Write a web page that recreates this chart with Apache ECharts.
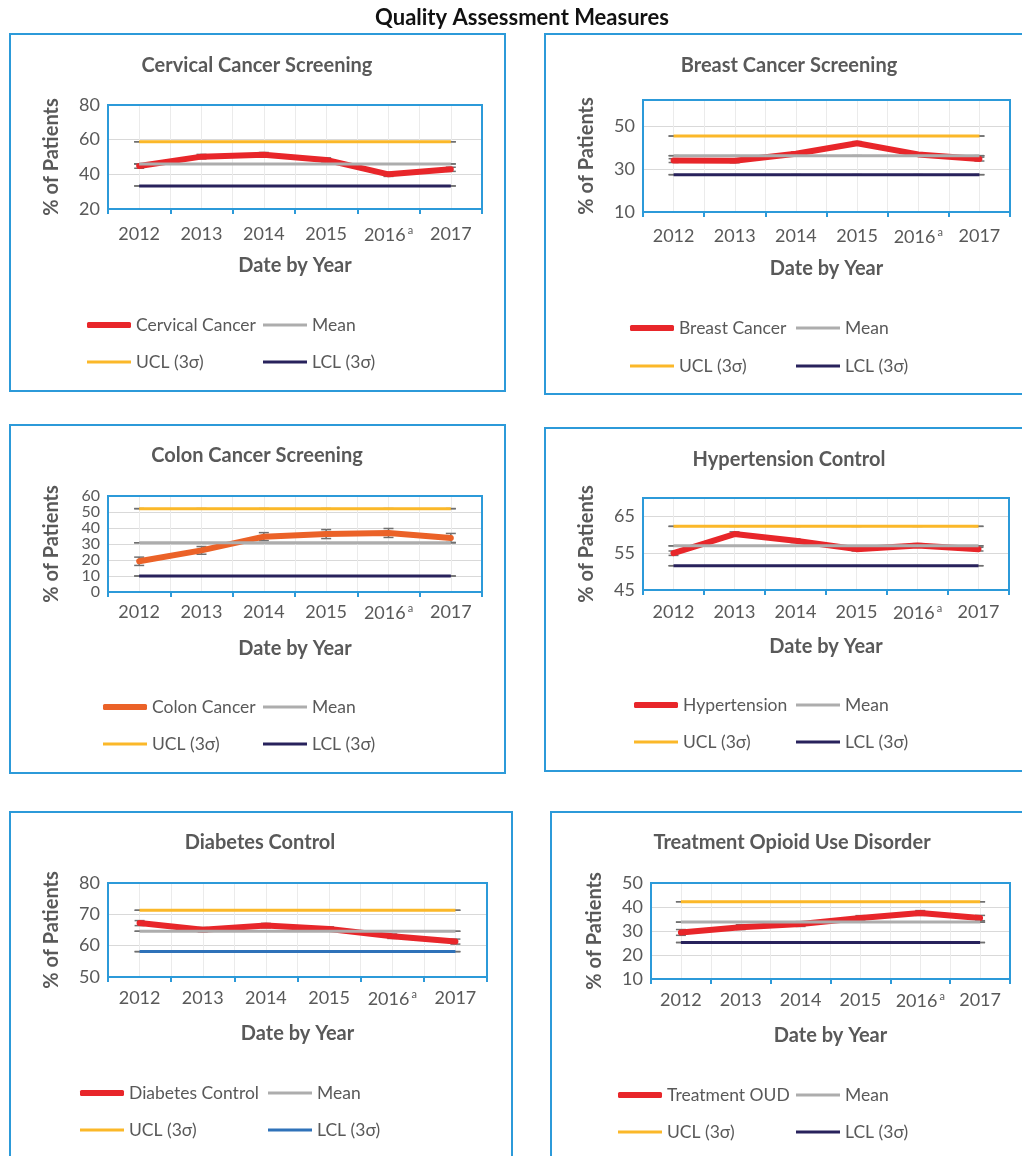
<!DOCTYPE html>
<html>
<head>
<meta charset="utf-8">
<title>Quality Assessment Measures</title>
<script src="https://cdn.jsdelivr.net/npm/echarts@6/dist/echarts.min.js"></script>
<style>
  html, body { margin: 0; padding: 0; background: #fff; }
  #chart { width: 1022px; height: 1156px; }
</style>
</head>
<body>
<div id="chart"></div>
<script>
const years = ['2012', '2013', '2014', '2015', '2016', '2017']
const footnoteYear = '2016'

// limits are [mean, UCL, LCL], axis is [min, max, interval]
const cervicalValues = [44.8, 50.2, 51.3, 48.3, 40.0, 42.9]
const cervicalError = [1.3, 1.3, 1.3, 1.2, 1.2, 1.2]
const cervicalLimits = [46.0, 58.8, 33.3]
const cervicalAxis = [20, 80, 20]

const breastValues = [34.1, 34.0, 37.3, 42.2, 37.0, 34.8]
const breastError = [0.9, 0.9, 0.8, 0.8, 0.8, 0.9]
const breastLimits = [36.4, 45.6, 27.5]
const breastAxis = [10, 62.5, 20]

const colonValues = [19.2, 26.0, 34.6, 36.2, 36.9, 33.8]
const colonError = [2.6, 2.4, 2.5, 2.8, 2.8, 2.8]
const colonLimits = [30.8, 52.1, 10.0]
const colonAxis = [0, 60, 10]

const hypertensionValues = [55.0, 60.2, 58.4, 56.1, 57.1, 56.1]
const hypertensionError = [0.6, 0.6, 0.5, 0.5, 0.5, 0.5]
const hypertensionLimits = [57.0, 62.3, 51.6]
const hypertensionAxis = [45, 70, 10]

const diabetesValues = [67.2, 65.1, 66.4, 65.3, 63.0, 61.3]
const diabetesError = [0.8, 0.7, 0.7, 0.7, 0.7, 0.8]
const diabetesLimits = [64.6, 71.3, 58.1]
const diabetesAxis = [50, 80, 10]

const oudValues = [29.4, 31.6, 32.9, 35.4, 37.5, 35.4]
const oudError = [1.2, 1.0, 1.0, 1.0, 1.0, 1.1]
const oudLimits = [33.7, 42.2, 25.2]
const oudAxis = [10, 50, 10]

const limitNames = ['Mean', 'UCL (3σ)', 'LCL (3σ)']

const BLUE = '#2C9AD9'
const TEXT = '#595959'
const FONT = 'Lato, "Open Sans", sans-serif'
const RED = '#E8262A'
const ORANGE = '#EB6228'
const GRAY = '#ADADAD'
const GOLD = '#FBB829'
const NAVY = '#28225C'
const STEEL = '#2F72B9'

const panels = [
  { title: 'Cervical Cancer Screening', label: 'Cervical Cancer', values: cervicalValues, error: cervicalError,
    limits: cervicalLimits, axis: cervicalAxis, color: RED, lcl: NAVY,
    box: [10, 34, 495, 357], titlePos: [257, 66], grid: [108, 105, 374, 104], labelMargin: 16,
    legendX: [87, 263], legendY: [325, 362] },
  { title: 'Breast Cancer Screening', label: 'Breast Cancer', values: breastValues, error: breastError,
    limits: breastLimits, axis: breastAxis, color: RED, lcl: NAVY,
    box: [545, 34, 495, 360], titlePos: [789, 66], grid: [643, 100, 367, 112], labelMargin: 15,
    legendX: [630, 796], legendY: [328, 366] },
  { title: 'Colon Cancer Screening', label: 'Colon Cancer', values: colonValues, error: colonError,
    limits: colonLimits, axis: colonAxis, color: ORANGE, lcl: NAVY,
    box: [10, 425, 495, 348], titlePos: [257, 456], grid: [108, 496, 374, 96], labelMargin: 11,
    legendX: [103, 263], legendY: [707, 744] },
  { title: 'Hypertension Control', label: 'Hypertension', values: hypertensionValues, error: hypertensionError,
    limits: hypertensionLimits, axis: hypertensionAxis, color: RED, lcl: NAVY,
    box: [545, 428, 495, 343], titlePos: [789, 460], grid: [643, 498, 366, 92], labelMargin: 13,
    legendX: [634, 796], legendY: [705, 742] },
  { title: 'Diabetes Control', label: 'Diabetes Control', values: diabetesValues, error: diabetesError,
    limits: diabetesLimits, axis: diabetesAxis, color: RED, lcl: STEEL,
    box: [10, 812, 502, 360], titlePos: [260, 843], grid: [108, 883, 379, 94], labelMargin: 12,
    legendX: [80, 268], legendY: [1093, 1130] },
  { title: 'Treatment Opioid Use Disorder', label: 'Treatment OUD', values: oudValues, error: oudError,
    limits: oudLimits, axis: oudAxis, color: RED, lcl: NAVY,
    box: [551, 812, 480, 360], titlePos: [792, 843], grid: [651, 883, 359, 96], labelMargin: 12,
    legendX: [618, 796], legendY: [1095, 1132] }
]

const grids = []
const xAxes = []
const yAxes = []
const series = []
const legends = []
const graphics = [{
  type: 'text', x: 522, y: 18,
  style: { text: 'Quality Assessment Measures', fill: '#111', font: 'bold 22px ' + FONT, align: 'center', verticalAlign: 'middle' }
}]

function renderErrorBar(params, api) {
  const x = api.value(0)
  const lo = api.coord([x, api.value(1)])
  const hi = api.coord([x, api.value(2)])
  const style = { stroke: '#707070', lineWidth: 1.5 }
  return {
    type: 'group',
    children: [
      { type: 'line', shape: { x1: lo[0], y1: lo[1], x2: hi[0], y2: hi[1] }, style },
      { type: 'line', shape: { x1: lo[0] - 5, y1: lo[1], x2: lo[0] + 5, y2: lo[1] }, style },
      { type: 'line', shape: { x1: hi[0] - 5, y1: hi[1], x2: hi[0] + 5, y2: hi[1] }, style }
    ]
  }
}

function legendItem(name, color, left, centerY, thick) {
  return {
    left: left,
    top: centerY - 9,
    padding: 0,
    itemWidth: 44,
    itemHeight: thick ? 6 : 3,
    icon: thick ? 'roundRect' : 'rect',
    selectedMode: false,
    textStyle: { color: TEXT, fontSize: 17.5, fontFamily: FONT },
    data: [{ name: name, itemStyle: { color: color, borderWidth: 0 } }]
  }
}

panels.forEach((p, i) => {
  const [gl, gt, gw, gh] = p.grid
  grids.push({ left: gl, top: gt, width: gw, height: gh, show: true, borderColor: BLUE, borderWidth: 2, z: 3 })

  xAxes.push({
    type: 'category', gridIndex: i, data: years, boundaryGap: true,
    name: 'Date by Year', nameLocation: 'middle', nameGap: 47,
    nameTextStyle: { color: TEXT, fontSize: 20, fontWeight: 'bold', fontFamily: FONT },
    axisLine: { lineStyle: { color: BLUE, width: 2 } },
    axisTick: { show: true, length: 5, interval: 0, lineStyle: { color: BLUE, width: 2 } },
    axisLabel: {
      interval: 0, margin: p.labelMargin, color: TEXT, fontSize: 18, fontFamily: FONT,
      formatter: v => v === footnoteYear ? v + '{sup|a}' : v,
      rich: { sup: { fontSize: 11, color: TEXT, fontFamily: FONT, verticalAlign: 'top', padding: [0, 0, 9, 2] } }
    },
    splitLine: { show: false }
  })
  // half-category vertical gridlines
  xAxes.push({
    type: 'value', gridIndex: i, position: 'top', min: 0, max: 12, interval: 1,
    axisLine: { show: false }, axisTick: { show: false }, axisLabel: { show: false },
    splitLine: { show: true, showMinLine: false, showMaxLine: false, lineStyle: { color: '#EBEBEB', width: 1 } }
  })

  const tight = p.grid[3] / ((p.axis[1] - p.axis[0]) / p.axis[2]) < 20
  yAxes.push({
    type: 'value', gridIndex: i, min: p.axis[0], max: p.axis[1], interval: p.axis[2],
    name: '% of Patients', nameLocation: 'middle', nameGap: 46,
    nameTextStyle: { color: TEXT, fontSize: 20, fontWeight: 'bold', fontFamily: FONT },
    axisLine: { show: true, lineStyle: { color: BLUE, width: 2 } },
    axisTick: { show: false },
    axisLabel: {
      color: TEXT, fontSize: tight ? 16 : 18, lineHeight: tight ? 12 : 18, fontFamily: FONT, margin: 8,
      interval: 0, hideOverlap: false, showMinLabel: true,
      showMaxLabel: p.axis[1] % p.axis[2] === p.axis[0] % p.axis[2]
    },
    splitLine: { showMinLine: false, showMaxLine: false, lineStyle: { color: '#D9D9D9', width: 1 } }
  })

  const bars = p.values.map((v, j) => [j, v - p.error[j], v + p.error[j]])
  p.limits.forEach(l => years.forEach((y, j) => bars.push([j, l, l])))
  series.push({
    type: 'custom', xAxisIndex: 2 * i, yAxisIndex: i, renderItem: renderErrorBar,
    encode: { x: 0, y: [1, 2] }, data: bars, silent: true
  })

  series.push({
    name: p.label, type: 'line', xAxisIndex: 2 * i, yAxisIndex: i, data: p.values,
    symbol: 'none', color: p.color, lineStyle: { color: p.color, width: 6, cap: 'round', join: 'round' }
  })
  const limitColors = [GRAY, GOLD, p.lcl]
  p.limits.forEach((l, k) => {
    series.push({
      name: limitNames[k], type: 'line', xAxisIndex: 2 * i, yAxisIndex: i,
      data: years.map(() => l), symbol: 'none', color: limitColors[k],
      lineStyle: { color: limitColors[k], width: 3 }
    })
  })

  legends.push(legendItem(p.label, p.color, p.legendX[0], p.legendY[0], true))
  legends.push(legendItem('Mean', GRAY, p.legendX[1], p.legendY[0], false))
  legends.push(legendItem('UCL (3σ)', GOLD, p.legendX[0], p.legendY[1], false))
  legends.push(legendItem('LCL (3σ)', p.lcl, p.legendX[1], p.legendY[1], false))

  graphics.push({
    type: 'rect', shape: { x: p.box[0], y: p.box[1], width: p.box[2], height: p.box[3] },
    style: { fill: 'none', stroke: BLUE, lineWidth: 2 }
  })
  graphics.push({
    type: 'text', x: p.titlePos[0], y: p.titlePos[1],
    style: { text: p.title, fill: TEXT, font: 'bold 20px ' + FONT, align: 'center', verticalAlign: 'middle' }
  })
})

const chart = echarts.init(document.getElementById('chart'))
chart.setOption({
  animation: false,
  backgroundColor: '#fff',
  textStyle: { fontFamily: FONT },
  graphic: graphics,
  grid: grids,
  xAxis: xAxes,
  yAxis: yAxes,
  legend: legends,
  series: series
})
</script>
</body>
</html>
